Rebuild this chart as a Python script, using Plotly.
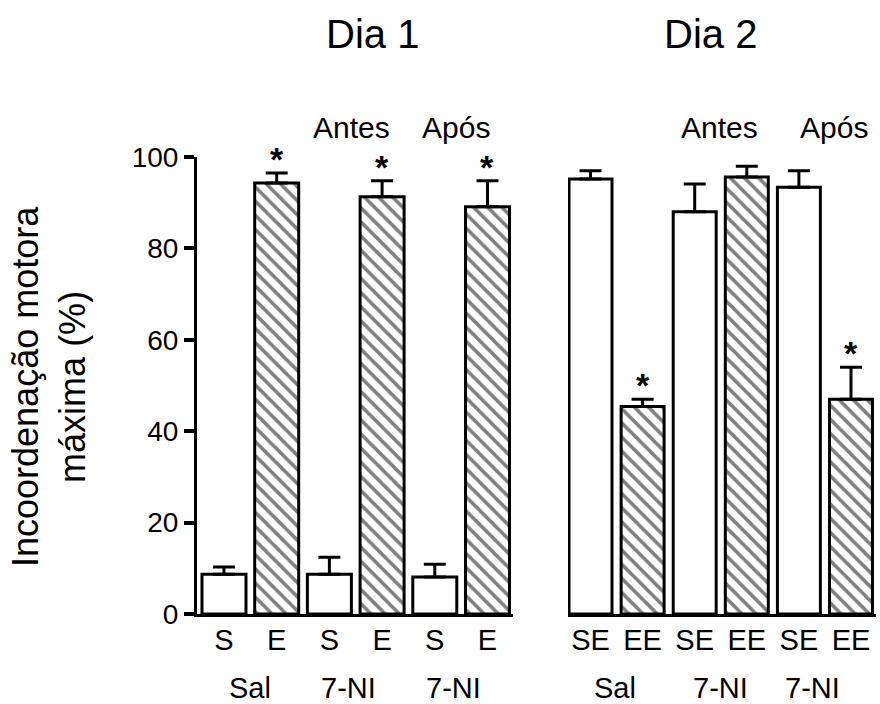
import plotly.graph_objects as go

# Day 1: saline (S) vs ethanol (E) groups
d1_ticks = ["S", "E", "S", "E", "S", "E"]
d1_groups = ["Sal", "7-NI", "7-NI"]
d1_s_mean = [8.7, 8.7, 8.1]
d1_s_sem = [1.6, 3.7, 2.8]
d1_e_mean = [94.3, 91.3, 89.1]
d1_e_sem = [2.2, 3.5, 5.7]
d1_e_sig = [True, True, True]

# Day 2: SE vs EE groups
d2_ticks = ["SE", "EE", "SE", "EE", "SE", "EE"]
d2_groups = ["Sal", "7-NI", "7-NI"]
d2_se_mean = [95.2, 88.0, 93.4]
d2_se_sem = [1.8, 6.1, 3.6]
d2_ee_mean = [45.4, 95.6, 47.0]
d2_ee_sem = [1.6, 2.4, 7.0]
d2_ee_sig = [True, False, True]

y_ticks = [0, 20, 40, 60, 80, 100]

FONT = "Liberation Sans, Arial, Helvetica, sans-serif"
W, H = 880, 704


def px_x(p):
    return p / W


def px_y(p):
    return 1 - p / H


fig = go.Figure()

odd_x = [0, 2, 4]
even_x = [1, 3, 5]


def open_bars(x, y, err, xa, width):
    return go.Bar(
        x=x, y=y, xaxis=xa, yaxis="y" if xa == "x" else "y2", width=width,
        marker=dict(color="white", line=dict(color="black", width=3)),
        error_y=dict(type="data", array=err, arrayminus=[0] * len(err), symmetric=False,
                     color="black", thickness=3, width=11),
        showlegend=False, hoverinfo="skip",
    )


def hatched_bars(x, y, err, xa, width):
    return go.Bar(
        x=x, y=y, xaxis=xa, yaxis="y" if xa == "x" else "y2", width=width,
        marker=dict(color="white", line=dict(color="black", width=3),
                    pattern=dict(shape="\\", fgcolor="black", bgcolor="white",
                                 size=10, solidity=0.35)),
        error_y=dict(type="data", array=err, arrayminus=[0] * len(err), symmetric=False,
                     color="black", thickness=3, width=11),
        showlegend=False, hoverinfo="skip",
    )


fig.add_trace(open_bars(odd_x, d1_s_mean, d1_s_sem, "x", 0.835))
fig.add_trace(hatched_bars(even_x, d1_e_mean, d1_e_sem, "x", 0.835))
fig.add_trace(open_bars(odd_x, d2_se_mean, d2_se_sem, "x2", 0.825))
fig.add_trace(hatched_bars(even_x, d2_ee_mean, d2_ee_sem, "x2", 0.825))

# significance asterisks above the error bars
annotations = []
for xs, means, sems, sig, xr, yr in [
    (even_x, d1_e_mean, d1_e_sem, d1_e_sig, "x", "y"),
    (even_x, d2_ee_mean, d2_ee_sem, d2_ee_sig, "x2", "y2"),
]:
    for xv, m, s, flag in zip(xs, means, sems, sig):
        if flag:
            annotations.append(dict(
                x=xv, y=m + s, xref=xr, yref=yr, text="<b>*</b>", showarrow=False,
                yanchor="bottom", yshift=-7,
                font=dict(family=FONT, size=34, color="black"),
            ))

# group labels beneath the tick labels
group_px = [(250, d1_groups[0]), (348, d1_groups[1]), (453, d1_groups[2]),
            (615, d2_groups[0]), (720, d2_groups[1]), (812, d2_groups[2])]
for xp, label in group_px:
    annotations.append(dict(
        x=px_x(xp), y=px_y(688), xref="paper", yref="paper", text=label,
        showarrow=False, xanchor="center", yanchor="middle",
        font=dict(family=FONT, size=29, color="black"),
    ))

# session labels
for xp, label in [(351, "Antes"), (456, "Após"), (719, "Antes"), (834, "Após")]:
    annotations.append(dict(
        x=px_x(xp), y=px_y(127), xref="paper", yref="paper", text=label,
        showarrow=False, xanchor="center", yanchor="middle",
        font=dict(family=FONT, size=30, color="black"),
    ))

# day titles
for xp, label in [(372, "Dia 1"), (710, "Dia 2")]:
    annotations.append(dict(
        x=px_x(xp), y=px_y(34), xref="paper", yref="paper", text=label,
        showarrow=False, xanchor="center", yanchor="middle",
        font=dict(family=FONT, size=40, color="black"),
    ))

# y-axis title
annotations.append(dict(
    x=px_x(49), y=px_y(387), xref="paper", yref="paper",
    text="Incoordenação motora<br>máxima (%)", textangle=-90,
    showarrow=False, xanchor="center", yanchor="middle",
    font=dict(family=FONT, size=36, color="black"),
))

y_dom = [px_y(614), px_y(157)]

fig.update_layout(
    width=W, height=H,
    margin=dict(l=0, r=0, t=0, b=0, autoexpand=False),
    paper_bgcolor="white", plot_bgcolor="white",
    barmode="overlay",
    font=dict(family=FONT, color="black"),
    annotations=annotations,
    xaxis=dict(
        domain=[px_x(197), px_x(513)], range=[-0.512, 5.484],
        tickvals=list(range(6)), ticktext=d1_ticks, ticks="",
        showline=True, linecolor="black", linewidth=3, showgrid=False, zeroline=False,
        tickfont=dict(family=FONT, size=29, color="black"), ticklabelstandoff=-2,
        automargin=False, fixedrange=True,
    ),
    yaxis=dict(
        domain=y_dom, range=[0, 100], tickvals=y_ticks,
        ticks="outside", ticklen=10, tickwidth=4, tickcolor="black",
        showline=True, linecolor="black", linewidth=3, showgrid=False, zeroline=False,
        tickfont=dict(family=FONT, size=28, color="black"),
        automargin=False, fixedrange=True,
    ),
    xaxis2=dict(
        domain=[px_x(568), px_x(876)], range=[-0.432, 5.48], anchor="y2",
        tickvals=list(range(6)), ticktext=d2_ticks, ticks="",
        showline=True, linecolor="black", linewidth=3, showgrid=False, zeroline=False,
        tickfont=dict(family=FONT, size=29, color="black"), ticklabelstandoff=-2,
        automargin=False, fixedrange=True,
    ),
    yaxis2=dict(
        domain=y_dom, range=[0, 100], anchor="x2",
        visible=False, showgrid=False, zeroline=False,
        automargin=False, fixedrange=True,
    ),
)

fig.write_html("out.html")
